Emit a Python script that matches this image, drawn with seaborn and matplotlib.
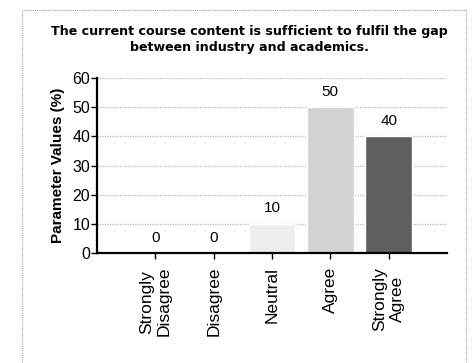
import matplotlib
matplotlib.use('Agg')
import matplotlib.pyplot as plt
import seaborn as sns
import pandas as pd
from matplotlib.patches import Rectangle

categories = ['Strongly\nDisagree', 'Disagree', 'Neutral', 'Agree', 'Strongly\nAgree']
values = [0, 0, 10, 50, 40]
bar_colors = ['#f2f2f2', '#e6e6e6', '#ededed', '#d2d2d2', '#5f5f5f']
title = 'The current course content is sufficient to fulfil the gap\nbetween industry and academics.'

sns.set_style('white')
plt.rcParams['font.family'] = ['Liberation Sans', 'DejaVu Sans']
plt.rcParams['text.color'] = 'black'
plt.rcParams['xtick.color'] = 'black'
plt.rcParams['ytick.color'] = 'black'
plt.rcParams['axes.labelcolor'] = 'black'

df = pd.DataFrame({'category': categories, 'value': values})

fig = plt.figure(figsize=(4.74, 3.63), dpi=100)
ax = fig.add_axes([97 / 474, 1 - 253 / 363, 350 / 474, 175 / 363])

sns.barplot(data=df, x='category', y='value', hue='category', palette=bar_colors,
            legend=False, width=0.8, saturation=1, ax=ax)

ax.set_xlim(-1, 5)
ax.set_ylim(0, 60)
ax.set_yticks(range(0, 61, 10))
ax.yaxis.grid(True, color='#b8b8b8', linestyle=(0, (1, 1)), linewidth=0.9)
ax.set_axisbelow(True)

for s in ['top', 'right']:
    ax.spines[s].set_visible(False)
for s in ['left', 'bottom']:
    ax.spines[s].set_linewidth(1.6)
    ax.spines[s].set_color('black')

ax.tick_params(axis='y', length=4, width=1, labelsize=11.5, pad=1, left=True)
ax.tick_params(axis='x', length=4, width=1, labelsize=12.5, pad=6, bottom=True)
ax.set_xticks(range(len(categories)))
ax.set_xticklabels(categories, rotation=90, ha='center', va='top', linespacing=1.25)
ax.set_xlabel('')
ax.set_ylabel('Parameter Values (%)', fontsize=11, fontweight='bold', labelpad=5)

for i, v in enumerate(values):
    ax.annotate(str(v), (i, v), xytext=(0, 6), textcoords='offset points',
                ha='center', va='bottom', fontsize=11)

fig.text(0.5 + 12 / 474, 1 - 40 / 363, title, ha='center', va='center', fontsize=9.1,
         fontweight='bold', family='DejaVu Sans', linespacing=1.3)

fig.patches.append(Rectangle((22 / 474, -0.01), 444 / 474, 1 - 10 / 363 + 0.01,
                             transform=fig.transFigure, fill=False,
                             edgecolor='#a0a0a0', linestyle=(0, (1, 1)), linewidth=0.8))

fig.savefig('out.png', dpi=100)
